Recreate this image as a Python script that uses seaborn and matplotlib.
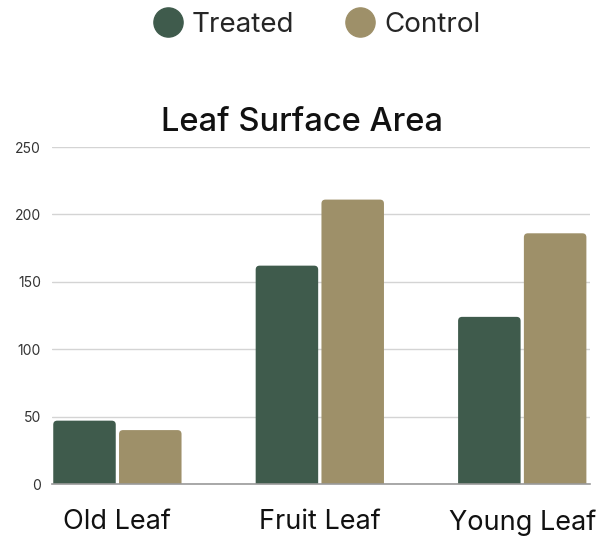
import matplotlib
matplotlib.use("Agg")
import matplotlib.pyplot as plt
import seaborn as sns
import pandas as pd
from matplotlib.patches import FancyBboxPatch
from matplotlib.lines import Line2D

categories = ["Old Leaf", "Fruit Leaf", "Young Leaf"]
treated = [47, 162, 124]
control = [40, 211, 186]
series_names = ["Treated", "Control"]
colors = ["#3f5b4c", "#9e9069"]
yticks = [0, 50, 100, 150, 200, 250]

df = pd.DataFrame({
    "category": categories * 2,
    "series": [series_names[0]] * 3 + [series_names[1]] * 3,
    "value": treated + control,
})

sns.set_theme(style="white")
FONT = ["Inter", "DejaVu Sans"]
plt.rcParams["font.family"] = FONT

fig = plt.figure(figsize=(6.14, 5.36), dpi=100)
ax = fig.add_axes([0.0847, 0.097, 0.8763, 0.6287])

sns.barplot(data=df, x="category", y="value", hue="series", order=categories,
            hue_order=series_names, palette=colors, width=0.65, gap=0.05,
            saturation=1, ax=ax, legend=False, edgecolor="none")

# rounded tops
fig.canvas.draw()
bbox = ax.get_window_extent()
xl = (-0.323, 2.335)
yl = (0, 250)
ax.set_xlim(*xl)
ax.set_ylim(*yl)
px_per_x = bbox.width / (xl[1] - xl[0])
px_per_y = bbox.height / (yl[1] - yl[0])
r_px = 4
patches = list(ax.patches)
for p in patches:
    x, y = p.get_x(), p.get_y()
    w, h = p.get_width(), p.get_height()
    fc = p.get_facecolor()
    p.remove()
    rs = r_px / px_per_x
    fb = FancyBboxPatch((x, y - 10), w, h + 10,
                        boxstyle=f"round,pad=0,rounding_size={rs}",
                        mutation_aspect=px_per_x / px_per_y,
                        facecolor=fc, edgecolor="none", clip_on=True, zorder=2)
    ax.add_patch(fb)

ax.set_yticks(yticks)
ax.set_yticklabels([str(v) for v in yticks], fontsize=10, color="#333333")
ax.yaxis.grid(True, color="#d4d4d4", linewidth=1)
ax.set_axisbelow(True)
ax.tick_params(axis="y", length=0, pad=8)
ax.tick_params(axis="x", length=0, pad=18, labelsize=19.5, labelcolor="#111111")
ax.set_xlabel("")
ax.set_ylabel("")
for s in ["top", "right", "left"]:
    ax.spines[s].set_visible(False)
ax.spines["bottom"].set_color("#9a9a9a")
ax.spines["bottom"].set_linewidth(1.2)
ax.spines["bottom"].set_zorder(3)

fig.text(0.492, 0.771, "Leaf Surface Area", ha="center", va="center",
         fontsize=23.5, fontweight="medium", color="#111111", family=FONT)

handles = [Line2D([], [], marker="o", linestyle="none", markersize=21,
                  markerfacecolor=c, markeredgecolor=c) for c in colors]
fig.legend(handles, series_names, loc="center", bbox_to_anchor=(0.514, 0.953),
           ncol=2, frameon=False, fontsize=20, handletextpad=0.25,
           columnspacing=1.8, handlelength=1.2)

fig.savefig("out.png", dpi=100)
